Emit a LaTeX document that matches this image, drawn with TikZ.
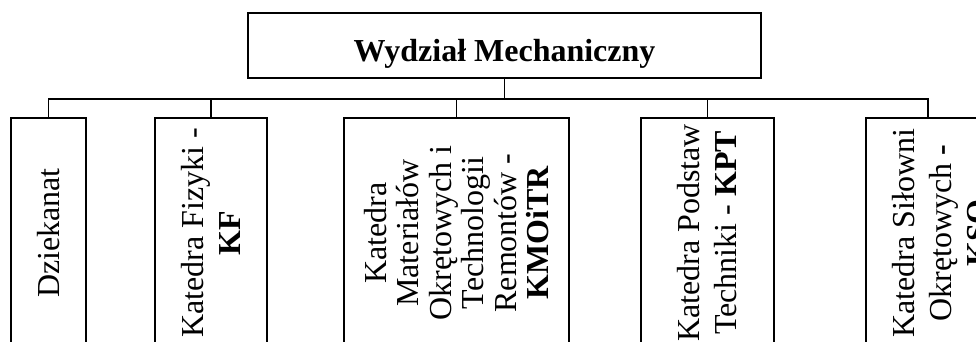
\documentclass[tikz,border=0pt]{standalone}
\usepackage{fontspec}
\setmainfont{Liberation Serif}
\begin{document}
\begin{tikzpicture}[x=1pt,y=1pt,
  conn/.style={line width=1.8pt, line join=miter},
  box/.style={draw, line width=1.8pt, rotate=90, minimum width=230pt, inner sep=0pt, align=center, font=\fontsize{32}{37}\selectfont},
  title/.style={draw, line width=1.8pt, minimum width=513pt, minimum height=65pt, inner sep=0pt, text height=38pt, text depth=7pt, font=\fontsize{32}{37}\selectfont\bfseries}]
\useasboundingbox (0,0) rectangle (976,341);
\clip (0,0) rectangle (976,341);
\node[title] (top) at (504.5,295.5) {Wydział Mechaniczny};
\node[box, minimum height=75pt] (b1) at (48.5,108) {Dziekanat};
\node[box, minimum height=112pt] (b2) at (211,108) {Katedra Fizyki -\\\textbf{KF}};
\node[box, minimum height=225pt, font=\fontsize{32}{32.5}\selectfont] (b3) at (456.5,108) {Katedra\\Materiałów\\Okrętowych i\\Technologii\\Remontów -\\\textbf{KMOiTR}};
\node[box, minimum height=133pt] (b4) at (707.5,108) {Katedra Podstaw\\Techniki - \textbf{KPT}};
\node[box, minimum height=150pt] (b5) at (941,108) {Katedra Siłowni\\Okrętowych \textbf{-}\\\textbf{KSO}};
\coordinate (bus) at (0,242);
\coordinate (s5) at (928,242);
\draw[conn] (top.south) -- (top.south |- bus);
\draw[conn] (b1.east) -- (b1.east |- bus) -- (s5) -- (s5 |- b5.east);
\draw[conn] (b2.east |- bus) -- (b2.east);
\draw[conn] (b3.east |- bus) -- (b3.east);
\draw[conn] (b4.east |- bus) -- (b4.east);
\end{tikzpicture}
\end{document}
